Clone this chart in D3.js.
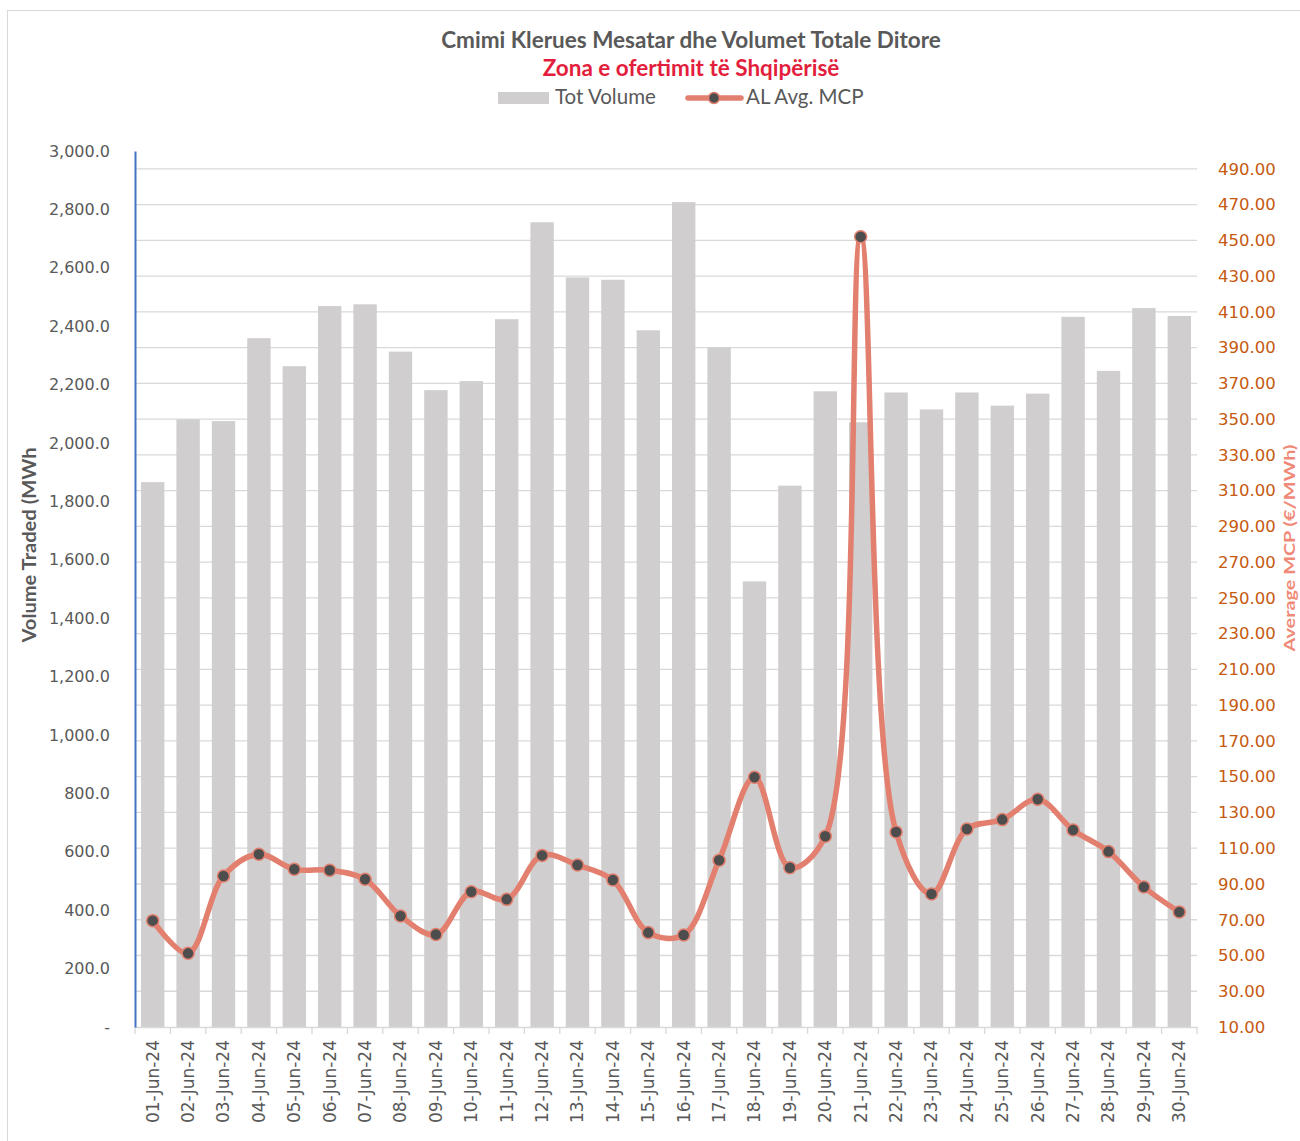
<!DOCTYPE html>
<html>
<head>
<meta charset="utf-8">
<title>Cmimi Klerues Mesatar dhe Volumet Totale Ditore</title>
<script src="https://cdn.jsdelivr.net/npm/d3@7"></script>
<style>
  body { margin: 0; background: #fff; }
</style>
</head>
<body>
<script>
// data
var dates = ['01-Jun-24','02-Jun-24','03-Jun-24','04-Jun-24','05-Jun-24','06-Jun-24','07-Jun-24','08-Jun-24','09-Jun-24','10-Jun-24',
             '11-Jun-24','12-Jun-24','13-Jun-24','14-Jun-24','15-Jun-24','16-Jun-24','17-Jun-24','18-Jun-24','19-Jun-24','20-Jun-24',
             '21-Jun-24','22-Jun-24','23-Jun-24','24-Jun-24','25-Jun-24','26-Jun-24','27-Jun-24','28-Jun-24','29-Jun-24','30-Jun-24'];
var volume = [1866, 2081, 2075, 2359, 2263, 2469, 2475, 2313, 2181, 2212,
              2424, 2756, 2567, 2559, 2386, 2825, 2327, 1526, 1854, 2177,
              2071, 2173, 2115, 2173, 2128, 2169, 2432, 2247, 2462, 2435];
var mcp = [69.5, 51.2, 94.5, 106.6, 98.2, 97.7, 92.6, 72.1, 61.7, 85.7,
           81.4, 106.0, 100.6, 92.2, 62.8, 61.5, 103.3, 149.7, 99.1, 116.7,
           452.0, 119.1, 84.4, 120.8, 126.0, 137.4, 120.2, 108.1, 88.3, 74.3];
var volTicks = d3.range(0, 3001, 200);
var mcpTicks = d3.range(10, 491, 20);

var W = 1300, H = 1141;
var pLeft = 135, pRight = 1197, pTop = 151, pBottom = 1027;

var lineColor = '#E27F6E';
var axisGrey = '#595959';

var svg = d3.select('body').append('svg')
  .attr('width', W)
  .attr('height', H);

// chart frame
svg.append('rect')
  .attr('x', 7.5).attr('y', 10.5)
  .attr('width', W).attr('height', H)
  .attr('fill', 'none')
  .attr('stroke', '#d9d9d9');

var x = d3.scaleBand().domain(dates).range([pLeft, pRight]).paddingInner(0.34).paddingOuter(0.17);
var yL = d3.scaleLinear().domain([0, 3000]).range([pBottom, pTop]);
var yR = d3.scaleLinear().domain([10, 500]).range([pBottom, pTop]);

// gridlines follow the right axis
svg.append('g')
  .selectAll('line')
  .data(mcpTicks.slice(1))
  .enter()
  .append('line')
  .attr('x1', pLeft).attr('x2', pRight)
  .attr('y1', function(d){ return yR(d); })
  .attr('y2', function(d){ return yR(d); })
  .attr('stroke', '#d9d9d9')
  .attr('stroke-width', 1.3);

// bars
svg.append('g')
  .selectAll('rect')
  .data(volume)
  .enter()
  .append('rect')
  .attr('x', function(d, i){ return x(dates[i]); })
  .attr('width', x.bandwidth())
  .attr('y', function(d){ return yL(d); })
  .attr('height', function(d){ return pBottom - yL(d); })
  .attr('fill', '#D0CECE');

// bottom axis
var xAxis = svg.append('g')
  .attr('transform', 'translate(0,' + pBottom + ')')
  .call(d3.axisBottom(x).tickSize(0).tickPadding(0));
xAxis.select('.domain').attr('stroke', '#d9d9d9').attr('stroke-width', 1.3);
xAxis.selectAll('.tick text')
  .attr('transform', 'rotate(-90)')
  .attr('text-anchor', 'end')
  .attr('x', -13)
  .attr('y', 0)
  .attr('dy', '0.35em')
  .attr('fill', axisGrey)
  .attr('font-family', 'DejaVu Sans')
  .attr('font-size', '17px');
// separators between categories
svg.append('g')
  .selectAll('line')
  .data(d3.range(dates.length + 1))
  .enter()
  .append('line')
  .attr('x1', function(i){ return pLeft + i * x.step(); })
  .attr('x2', function(i){ return pLeft + i * x.step(); })
  .attr('y1', pBottom).attr('y2', pBottom + 7)
  .attr('stroke', '#d9d9d9')
  .attr('stroke-width', 1.3);

// left axis
var lAxis = svg.append('g')
  .attr('transform', 'translate(' + pLeft + ',0)')
  .call(d3.axisLeft(yL).tickValues(volTicks).tickSize(0).tickPadding(25)
    .tickFormat(function(d){ return d === 0 ? '-' : d3.format(',.1f')(d); }));
lAxis.select('.domain').attr('stroke', '#4472C4').attr('stroke-width', 2);
lAxis.selectAll('.tick text')
  .attr('fill', axisGrey)
  .attr('font-family', 'DejaVu Sans')
  .attr('font-size', '16px');

// right axis
var rAxis = svg.append('g')
  .attr('transform', 'translate(' + pRight + ',0)')
  .call(d3.axisRight(yR).tickValues(mcpTicks).tickSize(0).tickPadding(21)
    .tickFormat(d3.format('.2f')));
rAxis.select('.domain').remove();
rAxis.selectAll('.tick text')
  .attr('fill', '#C55A11')
  .attr('font-family', 'DejaVu Sans')
  .attr('font-size', '16.5px');

// smoothed line, like the spreadsheet's
var line = d3.line()
  .x(function(d, i){ return x(dates[i]) + x.bandwidth() / 2; })
  .y(function(d){ return yR(d); })
  .curve(d3.curveCatmullRom.alpha(0.5));

svg.append('path')
  .datum(mcp)
  .attr('d', line)
  .attr('fill', 'none')
  .attr('stroke', lineColor)
  .attr('stroke-width', 5.5)
  .attr('stroke-linecap', 'round');

svg.append('g')
  .selectAll('circle')
  .data(mcp)
  .enter()
  .append('circle')
  .attr('cx', function(d, i){ return x(dates[i]) + x.bandwidth() / 2; })
  .attr('cy', function(d){ return yR(d); })
  .attr('r', 6)
  .attr('fill', '#4D4D4D')
  .attr('stroke', lineColor)
  .attr('stroke-width', 1.5);

// titles
svg.append('text')
  .text('Cmimi Klerues Mesatar dhe Volumet Totale Ditore')
  .attr('x', 691).attr('y', 48)
  .attr('text-anchor', 'middle')
  .attr('font-family', 'Lato')
  .attr('font-weight', 'bold')
  .attr('font-size', '22.5px')
  .attr('fill', axisGrey);

svg.append('text')
  .text('Zona e ofertimit të Shqipërisë')
  .attr('x', 691).attr('y', 76)
  .attr('text-anchor', 'middle')
  .attr('font-family', 'Lato')
  .attr('font-weight', 'bold')
  .attr('font-size', '22.5px')
  .attr('fill', '#E31E3C');

// legend
svg.append('rect')
  .attr('x', 498).attr('y', 92)
  .attr('width', 51).attr('height', 12)
  .attr('fill', '#D0CECE');
svg.append('text')
  .text('Tot Volume')
  .attr('x', 555).attr('y', 104)
  .attr('font-family', 'Lato')
  .attr('font-size', '20.5px')
  .attr('fill', axisGrey);
svg.append('line')
  .attr('x1', 688).attr('x2', 741)
  .attr('y1', 98).attr('y2', 98)
  .attr('stroke', lineColor)
  .attr('stroke-width', 5.5)
  .attr('stroke-linecap', 'round');
svg.append('circle')
  .attr('cx', 714).attr('cy', 98).attr('r', 5.5)
  .attr('fill', '#4D4D4D')
  .attr('stroke', lineColor)
  .attr('stroke-width', 1.5);
svg.append('text')
  .text('AL Avg. MCP')
  .attr('x', 746).attr('y', 104)
  .attr('font-family', 'Lato')
  .attr('font-size', '20.5px')
  .attr('fill', axisGrey);

// axis titles
svg.append('text')
  .text('Volume Traded (MWh')
  .attr('transform', 'translate(36,545) rotate(-90)')
  .attr('text-anchor', 'middle')
  .attr('font-family', 'Lato')
  .attr('font-weight', 'bold')
  .attr('font-size', '18px')
  .attr('textLength', 195)
  .attr('lengthAdjust', 'spacingAndGlyphs')
  .attr('fill', axisGrey);

svg.append('text')
  .text('Average MCP (€/MWh)')
  .attr('transform', 'translate(1295,548) rotate(-90)')
  .attr('text-anchor', 'middle')
  .attr('font-family', 'Lato')
  .attr('font-weight', 'bold')
  .attr('font-size', '16px')
  .attr('textLength', 207)
  .attr('lengthAdjust', 'spacingAndGlyphs')
  .attr('fill', '#F08A78');
</script>
</body>
</html>
